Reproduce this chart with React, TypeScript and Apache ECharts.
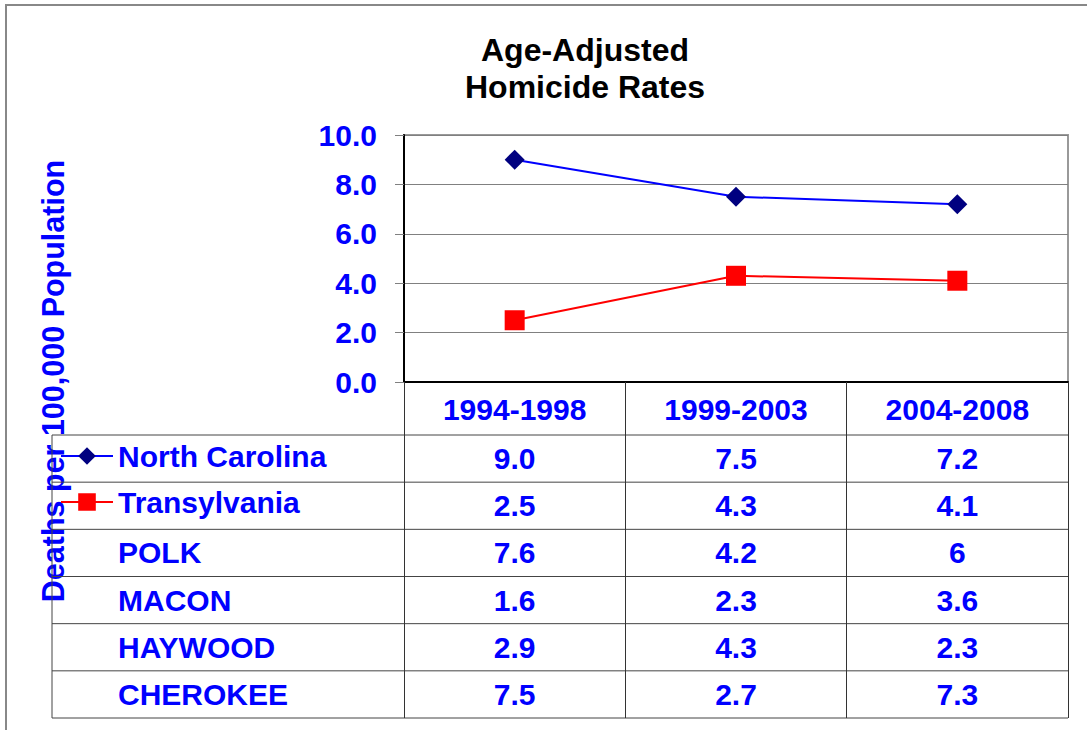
import React, { useEffect, useRef } from 'react';
import * as echarts from 'echarts';

const categories = ['1994-1998', '1999-2003', '2004-2008'];
const northCarolina = [9.0, 7.5, 7.2];
const transylvania = [2.5, 4.3, 4.1];
const polk = [7.6, 4.2, 6];
const macon = [1.6, 2.3, 3.6];
const haywood = [2.9, 4.3, 2.3];
const cherokee = [7.5, 2.7, 7.3];

const yMin = 0;
const yMax = 10;
const yInterval = 2;

const titleText = 'Age-Adjusted\nHomicide Rates';
const yAxisTitle = 'Deaths per 100,000 Population';

const tableRows = [
  { name: 'North Carolina', values: northCarolina, oneDecimal: true, legend: true },
  { name: 'Transylvania', values: transylvania, oneDecimal: true, legend: true },
  { name: 'POLK', values: polk, oneDecimal: false, legend: false },
  { name: 'MACON', values: macon, oneDecimal: false, legend: false },
  { name: 'HAYWOOD', values: haywood, oneDecimal: false, legend: false },
  { name: 'CHEROKEE', values: cherokee, oneDecimal: false, legend: false },
];

const FONT = '"Liberation Sans", Arial, sans-serif';
const BLUE = '#0000FF';

const TABLE_TOP = 435;
const TABLE_BOTTOM = 718;
const TABLE_LEFT = 52;
const TABLE_RIGHT = 1068;

export default function App() {
  const ref = useRef<HTMLDivElement>(null);

  useEffect(() => {
    const chart = echarts.init(ref.current!, null, { renderer: 'svg' });
    const option: any = {
      animation: false,
      backgroundColor: '#ffffff',
      title: {
        text: titleText,
        left: 580,
        top: 26,
        textAlign: 'center',
        textStyle: {
          fontFamily: FONT,
          fontWeight: 'bold',
          fontSize: 32,
          lineHeight: 37,
          color: '#000000',
        },
      },
      legend: {
        orient: 'vertical',
        left: 60,
        top: 441,
        padding: 0,
        itemWidth: 52,
        itemHeight: 22,
        itemGap: 16,
        selectedMode: false,
        textStyle: { fontFamily: FONT, fontWeight: 'bold', fontSize: 30, color: BLUE },
        data: ['North Carolina', 'Transylvania'],
      },
      grid: {
        left: 404,
        top: 135,
        right: 19,
        bottom: 348,
        show: true,
        borderColor: '#999999',
        borderWidth: 2,
        backgroundColor: 'transparent',
      },
      xAxis: {
        type: 'category',
        data: categories,
        boundaryGap: true,
        axisLine: { lineStyle: { color: '#000000', width: 2 } },
        axisTick: { show: true, length: 336, lineStyle: { color: '#333333', width: 1 } },
        axisLabel: {
          margin: 12,
          fontFamily: FONT,
          fontWeight: 'bold',
          fontSize: 30,
          color: BLUE,
        },
        splitLine: { show: false },
      },
      yAxis: {
        type: 'value',
        min: yMin,
        max: yMax,
        interval: yInterval,
        axisLine: { show: true, lineStyle: { color: '#000000', width: 2 } },
        axisTick: { show: true, length: 9, lineStyle: { color: '#808080', width: 1 } },
        axisLabel: {
          margin: 27,
          formatter: (v: number) => v.toFixed(1),
          fontFamily: FONT,
          fontWeight: 'bold',
          fontSize: 30,
          color: BLUE,
        },
        splitLine: { show: true, lineStyle: { color: '#808080', width: 1 } },
      },
      series: [
        {
          name: 'North Carolina',
          type: 'line',
          data: northCarolina,
          symbol: 'diamond',
          symbolSize: 20,
          lineStyle: { color: '#0000FF', width: 2 },
          itemStyle: { color: '#000080' },
        },
        {
          name: 'Transylvania',
          type: 'line',
          data: transylvania,
          symbol: 'rect',
          symbolSize: 20,
          lineStyle: { color: '#FF0000', width: 2 },
          itemStyle: { color: '#FF0000' },
        },
      ],
    };
    chart.setOption(option);

    const xs = categories.map((c) => chart.convertToPixel({ xAxisIndex: 0 }, c) as number);
    const rowH = (TABLE_BOTTOM - TABLE_TOP) / tableRows.length;
    const graphics: any[] = [];

    graphics.push({
      type: 'rect',
      silent: true,
      shape: { x: 6, y: 5, width: 1200, height: 900 },
      style: { fill: 'none', stroke: '#888888', lineWidth: 2 },
    });

    graphics.push({
      type: 'text',
      silent: true,
      x: 53,
      y: 381,
      rotation: Math.PI / 2,
      style: {
        text: yAxisTitle,
        align: 'center',
        verticalAlign: 'middle',
        font: `bold 30.5px ${FONT}`,
        fill: BLUE,
      },
    });

    for (let r = 0; r <= tableRows.length; r++) {
      const y = TABLE_TOP + rowH * r;
      graphics.push({
        type: 'line',
        silent: true,
        shape: { x1: TABLE_LEFT, y1: y, x2: TABLE_RIGHT, y2: y },
        style: { stroke: '#444444', lineWidth: 1 },
      });
    }
    graphics.push({
      type: 'line',
      silent: true,
      shape: { x1: TABLE_LEFT, y1: TABLE_TOP, x2: TABLE_LEFT, y2: TABLE_BOTTOM },
      style: { stroke: '#444444', lineWidth: 1 },
    });

    tableRows.forEach((row, r) => {
      const cy = TABLE_TOP + rowH * (r + 0.5);
      if (!row.legend) {
        graphics.push({
          type: 'text',
          silent: true,
          x: 118,
          y: cy,
          style: {
            text: row.name,
            align: 'left',
            verticalAlign: 'middle',
            font: `bold 30px ${FONT}`,
            fill: BLUE,
          },
        });
      }
      row.values.forEach((v, i) => {
        graphics.push({
          type: 'text',
          silent: true,
          x: xs[i],
          y: cy,
          style: {
            text: row.oneDecimal ? v.toFixed(1) : String(v),
            align: 'center',
            verticalAlign: 'middle',
            font: `bold 30px ${FONT}`,
            fill: BLUE,
          },
        });
      });
    });

    chart.setOption({ graphic: graphics });

    return () => chart.dispose();
  }, []);

  return (
    <div
      ref={ref}
      style={{ position: 'fixed', left: 0, top: 0, width: 1087, height: 730, background: '#fff' }}
    />
  );
}
